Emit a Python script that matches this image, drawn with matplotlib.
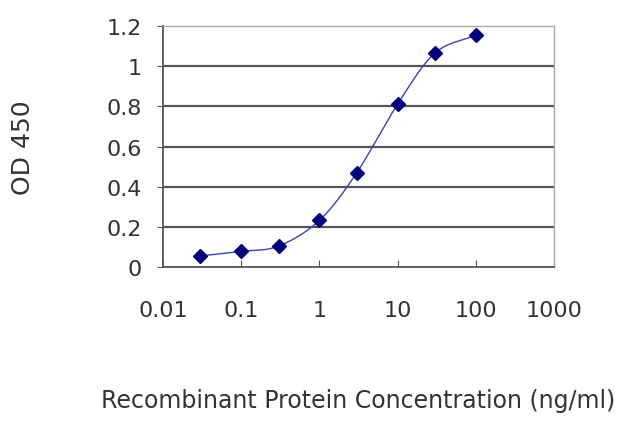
import numpy as np
import matplotlib
matplotlib.use('Agg')
import matplotlib.pyplot as plt

conc = [0.03, 0.1, 0.3, 1, 3, 10, 30, 100]
od = [0.055, 0.078, 0.104, 0.232, 0.469, 0.811, 1.065, 1.154]
xticks = [0.01, 0.1, 1, 10, 100, 1000]
xticklabels = ['0.01', '0.1', '1', '10', '100', '1000']
yticks = [0, 0.2, 0.4, 0.6, 0.8, 1, 1.2]
yticklabels = ['0', '0.2', '0.4', '0.6', '0.8', '1', '1.2']

plt.rcParams['font.family'] = ['DejaVu Sans']
txt = '#333333'


def smooth(xs, ys, n=30):
    # catmull-rom through the points, in log-x space (like excel's smoothed line)
    lx = np.log10(xs)
    ys = np.asarray(ys, dtype=float)
    px = np.concatenate([[2 * lx[0] - lx[1]], lx, [2 * lx[-1] - lx[-2]]])
    py = np.concatenate([[2 * ys[0] - ys[1]], ys, [2 * ys[-1] - ys[-2]]])
    outx, outy = [], []
    t = np.linspace(0, 1, n)
    for i in range(1, len(px) - 2):
        for arr, out in ((px, outx), (py, outy)):
            p0, p1, p2, p3 = arr[i - 1], arr[i], arr[i + 1], arr[i + 2]
            out.extend(0.5 * (2 * p1 + (-p0 + p2) * t
                              + (2 * p0 - 5 * p1 + 4 * p2 - p3) * t ** 2
                              + (-p0 + 3 * p1 - 3 * p2 + p3) * t ** 3))
    return 10 ** np.array(outx), np.array(outy)


fig = plt.figure(figsize=(6.4, 4.27), dpi=100)
ax = fig.add_axes([163 / 640, 1 - 268 / 427, (554 - 163) / 640, (268 - 27) / 427])

sx, sy = smooth(conc, od)
ax.plot(sx, sy, color='#4040b0', lw=1.0, zorder=3)
ax.plot(conc, od, linestyle='none', marker='D', ms=7, color='#00007a', zorder=4)

ax.set_xscale('log')
ax.set_xlim(0.01, 1000)
ax.set_ylim(0, 1.2)
ax.set_xticks(xticks)
ax.set_xticklabels(xticklabels)
ax.xaxis.set_minor_locator(matplotlib.ticker.NullLocator())
ax.set_yticks(yticks)
ax.set_yticklabels(yticklabels)

for v in yticks[1:-1]:
    ax.axhline(v, color='#555555', lw=1.6, zorder=1)

for s in ['left', 'bottom']:
    ax.spines[s].set_color('#555555')
    ax.spines[s].set_linewidth(1.3)
for s in ['top', 'right']:
    ax.spines[s].set_color('#aaaaaa')
    ax.spines[s].set_linewidth(1.0)

ax.tick_params(axis='x', direction='in', length=5, color='#555555', pad=24, labelsize=16, labelcolor=txt)
ax.tick_params(axis='y', direction='out', length=4, color='#555555', pad=11, labelsize=16, labelcolor=txt)

ax.set_ylabel('OD 450', fontsize=18, color=txt, va='center')
ax.yaxis.set_label_coords((23 - 163) / 391, 0.5)
ax.set_xlabel('Recombinant Protein Concentration (ng/ml)', fontsize=17, color=txt, va='center')
ax.xaxis.set_label_coords(0.5, (268 - 401) / 241)

fig.savefig('out.png', dpi=100)
